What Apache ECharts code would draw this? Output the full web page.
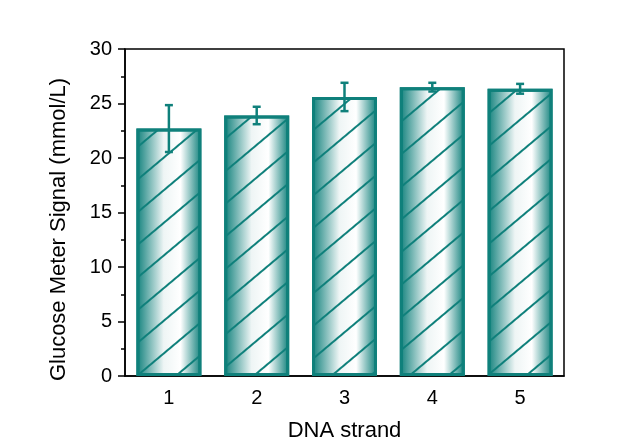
<!DOCTYPE html>
<html>
<head>
<meta charset="utf-8">
<script src="https://cdn.jsdelivr.net/npm/echarts@6/dist/echarts.min.js"></script>
<style>
  html, body { margin: 0; padding: 0; background: #fff; }
  #chart { width: 638px; height: 447px; }
</style>
</head>
<body>
<div id="chart"></div>
<script>
  // 数据
  var categories = ['1', '2', '3', '4', '5'];
  var signalMean = [22.7, 23.9, 25.6, 26.5, 26.35];
  var signalErr = [2.15, 0.8, 1.3, 0.4, 0.45];

  var teal = '#0f807b';

  var chart = echarts.init(document.getElementById('chart'));

  // 柱条渐变: 两边深, 偏右处最亮
  var barColor = new echarts.graphic.LinearGradient(0, 0, 1, 0, [
    { offset: 0, color: teal },
    { offset: 0.42, color: '#eef5f5' },
    { offset: 0.68, color: '#ffffff' },
    { offset: 1, color: teal }
  ]);

  var option = {
    backgroundColor: '#fff',
    animation: false,
    textStyle: { fontFamily: 'Liberation Sans, Arial, sans-serif' },
    grid: {
      left: 125, right: 74, top: 49, bottom: 70,
      show: true, borderColor: '#000', borderWidth: 1.5,
      backgroundColor: 'transparent'
    },
    xAxis: {
      type: 'category',
      data: categories,
      name: 'DNA strand',
      nameLocation: 'middle',
      nameGap: 44,
      nameTextStyle: { color: '#000', fontSize: 22 },
      axisLine: { lineStyle: { color: '#000', width: 1.5 } },
      axisTick: { alignWithLabel: true, length: 8, lineStyle: { color: '#000', width: 1.5 } },
      axisLabel: { color: '#000', fontSize: 20, margin: 12 }
    },
    yAxis: {
      type: 'value',
      min: 0, max: 30, interval: 5,
      name: 'Glucose Meter Signal (mmol/L)',
      nameLocation: 'middle',
      nameGap: 55,
      nameTextStyle: { color: '#000', fontSize: 22, padding: [0, 34, 0, 0] },
      axisLine: { show: true, lineStyle: { color: '#000', width: 1.5 } },
      axisTick: { show: true, length: 7, lineStyle: { color: '#000', width: 1.5 } },
      minorTick: { show: true, splitNumber: 2, length: 4, lineStyle: { color: '#000', width: 1.5 } },
      splitLine: { show: false },
      axisLabel: { color: '#000', fontSize: 20, margin: 13 }
    },
    series: [
      {
        type: 'bar',
        data: signalMean,
        barWidth: 65,
        itemStyle: {
          color: barColor,
          borderColor: teal,
          borderWidth: 3,
          decal: {
            symbol: 'rect',
            symbolSize: 1,
            color: teal,
            dashArrayX: [1, 0],
            dashArrayY: [2, 23],
            rotation: -Math.PI / 4.5
          }
        },
        z: 2
      },
      {
        // 误差线
        type: 'custom',
        data: signalMean.map(function (v, i) { return [i, v, signalErr[i]]; }),
        renderItem: function (params, api) {
          var i = api.value(0);
          var v = api.value(1);
          var e = api.value(2);
          var hi = api.coord([i, v + e]);
          var lo = api.coord([i, v - e]);
          var cap = 4;
          var style = { stroke: teal, lineWidth: 2.5 };
          return {
            type: 'group',
            children: [
              { type: 'line', shape: { x1: hi[0], y1: hi[1], x2: lo[0], y2: lo[1] }, style: style },
              { type: 'line', shape: { x1: hi[0] - cap, y1: hi[1], x2: hi[0] + cap, y2: hi[1] }, style: style },
              { type: 'line', shape: { x1: lo[0] - cap, y1: lo[1], x2: lo[0] + cap, y2: lo[1] }, style: style }
            ]
          };
        },
        z: 5
      }
    ]
  };

  option && chart.setOption(option);
</script>
</body>
</html>
